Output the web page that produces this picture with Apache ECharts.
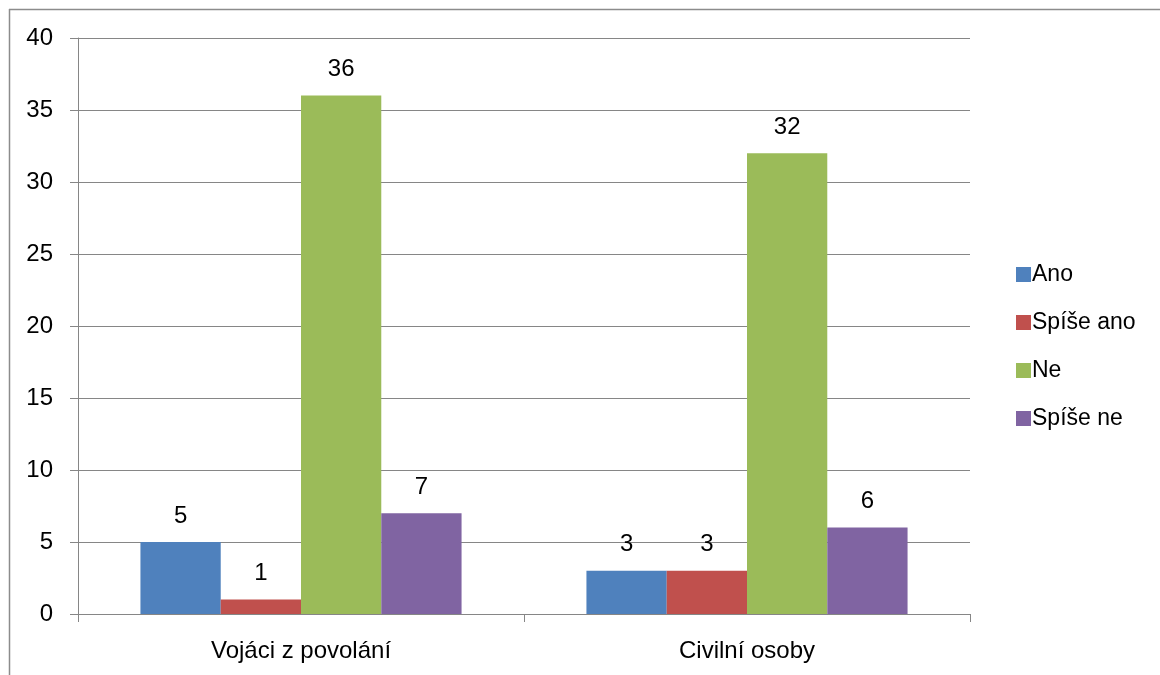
<!DOCTYPE html>
<html>
<head>
<meta charset="utf-8">
<script src="https://cdn.jsdelivr.net/npm/echarts@6/dist/echarts.min.js"></script>
<style>
  html, body { margin: 0; padding: 0; background: #fff; }
  #chart { width: 1160px; height: 675px; }
</style>
</head>
<body>
<div id="chart"></div>
<script>
// Survey answers by respondent group
const categories = ['Vojáci z povolání', 'Civilní osoby'];
const seriesNames = ['Ano', 'Spíše ano', 'Ne', 'Spíše ne'];
const ano = [5, 3];
const spiseAno = [1, 3];
const ne = [36, 32];
const spiseNe = [7, 6];
const colors = ['#4f81bd', '#c0504d', '#9bbb59', '#8064a2'];

const FONT = '"Liberation Sans", "DejaVu Sans", sans-serif';
const FS = 24;
const values = [ano, spiseAno, ne, spiseNe];

const chart = echarts.init(document.getElementById('chart'), null, { renderer: 'canvas' });

chart.setOption({
  animation: false,
  backgroundColor: '#fff',
  textStyle: { fontFamily: FONT },
  graphic: [
    { type: 'line', shape: { x1: 9, y1: 9.5, x2: 1160, y2: 9.5 }, style: { stroke: '#8c8c8c', lineWidth: 1.5 } },
    { type: 'line', shape: { x1: 9.5, y1: 9, x2: 9.5, y2: 675 }, style: { stroke: '#8c8c8c', lineWidth: 1.5 } }
  ],
  legend: {
    orient: 'vertical',
    left: 1011,
    top: 258,
    itemWidth: 15,
    itemHeight: 15,
    itemGap: 25,
    icon: 'rect',
    textStyle: { fontFamily: FONT, fontSize: 23, lineHeight: 23, color: '#000', padding: [0, 0, 0, -4] },
    data: seriesNames
  },
  grid: { left: 78, right: 190, top: 38, bottom: 61, containLabel: false },
  xAxis: {
    type: 'category',
    data: categories,
    axisLine: { lineStyle: { color: '#868686', width: 1 } },
    axisTick: { show: true, length: 8, lineStyle: { color: '#868686' } },
    axisLabel: { fontFamily: FONT, fontSize: FS, color: '#000', margin: 25 }
  },
  yAxis: {
    type: 'value',
    min: 0,
    max: 40,
    interval: 5,
    axisLine: { show: true, lineStyle: { color: '#868686', width: 1 } },
    axisTick: { show: true, length: 8, lineStyle: { color: '#868686' } },
    splitLine: { lineStyle: { color: '#868686', width: 1 } },
    axisLabel: { fontFamily: FONT, fontSize: FS, color: '#000', margin: 25 }
  },
  series: seriesNames.map((name, i) => ({
    name: name,
    type: 'bar',
    data: values[i],
    barGap: '0%',
    barCategoryGap: '28%',
    itemStyle: { color: colors[i] },
    label: {
      show: true,
      position: 'top',
      distance: 14,
      fontFamily: FONT,
      fontSize: FS,
      color: '#000'
    }
  }))
});
</script>
</body>
</html>
